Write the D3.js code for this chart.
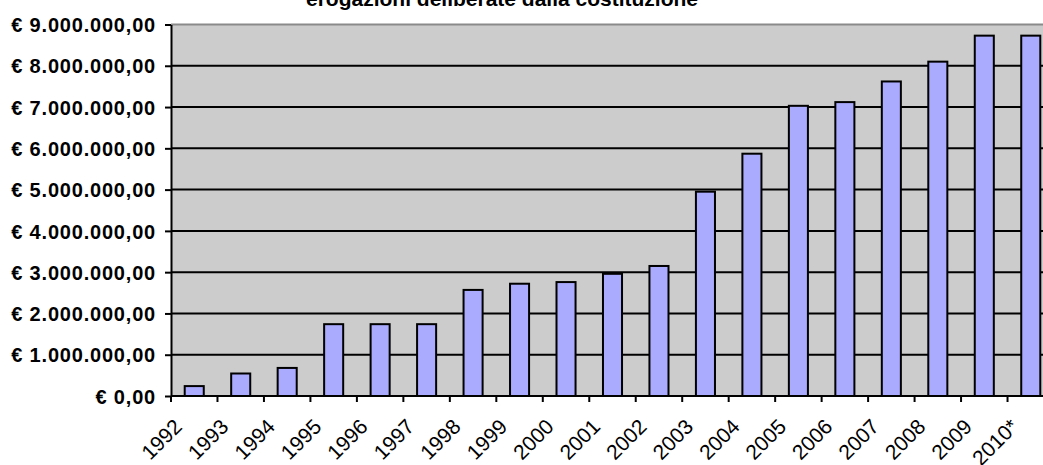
<html>

<head>
    <meta charset="utf-8">
    <title>Erogazioni</title>
    <script src="https://d3js.org/d3.v7.min.js"></script>
    <style>
        body { margin: 0; background: #fff; }
        text { font-family: "Liberation Sans", Arial, sans-serif; fill: #000; }
    </style>
</head>

<body>
    <script>
        const title = 'erogazioni deliberate dalla costituzione'

        const years = ['1992', '1993', '1994', '1995', '1996', '1997', '1998', '1999', '2000', '2001',
            '2002', '2003', '2004', '2005', '2006', '2007', '2008', '2009', '2010*']

        const amounts = [240000, 545000, 680000, 1740000, 1740000, 1740000, 2570000, 2720000, 2760000, 2960000,
            3150000, 4950000, 5870000, 7030000, 7120000, 7620000, 8100000, 8730000, 8730000]

        const yTicks = [0, 1000000, 2000000, 3000000, 4000000, 5000000, 6000000, 7000000, 8000000, 9000000]

        const width = 1043, height = 465
        const plotLeft = 171, plotRight = 1054, plotTop = 24.5, plotBottom = 396

        const euro = d3.formatLocale({
            decimal: ',', thousands: '.', grouping: [3], currency: ['€ ', '']
        }).format('$,.2f')

        const svg = d3.select('body').append('svg')
            .attr('width', width)
            .attr('height', height)

        const x = d3.scaleBand()
            .domain(years)
            .range([plotLeft, plotRight])
            .paddingInner(0.59)
            .paddingOuter(0.295)

        const y = d3.scaleLinear()
            .domain([0, 9000000])
            .range([plotBottom, plotTop])

        // plot background
        svg.append('rect')
            .attr('x', plotLeft)
            .attr('y', plotTop)
            .attr('width', plotRight - plotLeft)
            .attr('height', plotBottom - plotTop)
            .attr('fill', '#cccccc')

        // top border
        svg.append('line')
            .attr('x1', plotLeft).attr('x2', plotRight)
            .attr('y1', plotTop).attr('y2', plotTop)
            .attr('stroke', '#8a8a8a')
            .attr('stroke-width', 2)

        // gridlines
        svg.append('g')
            .selectAll('line')
            .data(yTicks.slice(1, -1))
            .enter()
            .append('line')
            .attr('x1', plotLeft).attr('x2', plotRight)
            .attr('y1', d => y(d)).attr('y2', d => y(d))
            .attr('stroke', '#000')
            .attr('stroke-width', 2)

        // bars
        svg.append('g')
            .selectAll('rect')
            .data(amounts)
            .enter()
            .append('rect')
            .attr('x', (d, i) => x(years[i]))
            .attr('y', d => y(d))
            .attr('width', x.bandwidth())
            .attr('height', d => plotBottom - y(d))
            .attr('fill', '#aaaaff')
            .attr('stroke', '#000')
            .attr('stroke-width', 2)

        // y axis
        const yAxis = svg.append('g')
            .attr('transform', 'translate(' + plotLeft + ',0)')
            .call(d3.axisLeft(y).tickValues(yTicks).tickSize(6).tickSizeOuter(0).tickFormat(euro))
        yAxis.select('.domain').attr('stroke', '#000').attr('stroke-width', 2)
        yAxis.selectAll('.tick line').attr('stroke', '#000').attr('stroke-width', 2)
        yAxis.selectAll('.tick text')
            .attr('x', -15)
            .attr('dy', '0.36em')
            .attr('font-size', 20)
            .attr('font-weight', 'bold')
            .attr('letter-spacing', 0.8)
            .style('font-family', '"Liberation Sans", Arial, sans-serif')

        // x axis: ticks on category boundaries
        const step = x.step()
        svg.append('line')
            .attr('x1', plotLeft).attr('x2', plotRight)
            .attr('y1', plotBottom).attr('y2', plotBottom)
            .attr('stroke', '#000')
            .attr('stroke-width', 2)

        svg.append('g')
            .selectAll('line')
            .data(years)
            .enter()
            .append('line')
            .attr('x1', d => x(d) + x.bandwidth() / 2 - step / 2)
            .attr('x2', d => x(d) + x.bandwidth() / 2 - step / 2)
            .attr('y1', plotBottom).attr('y2', plotBottom + 6)
            .attr('stroke', '#000')
            .attr('stroke-width', 2)

        svg.append('g')
            .selectAll('text')
            .data(years)
            .enter()
            .append('text')
            .attr('transform', d => 'translate(' + (x(d) + x.bandwidth() / 2 - 11) + ',' + (plotBottom + 32) + ') rotate(-45)')
            .attr('text-anchor', 'end')
            .attr('font-size', 21)
            .text(d => d)

        // title (cut at the top)
        svg.append('text')
            .attr('x', 502)
            .attr('y', 6)
            .attr('text-anchor', 'middle')
            .attr('font-size', 21)
            .attr('font-weight', 'bold')
            .text(title)
    </script>
</body>

</html>
